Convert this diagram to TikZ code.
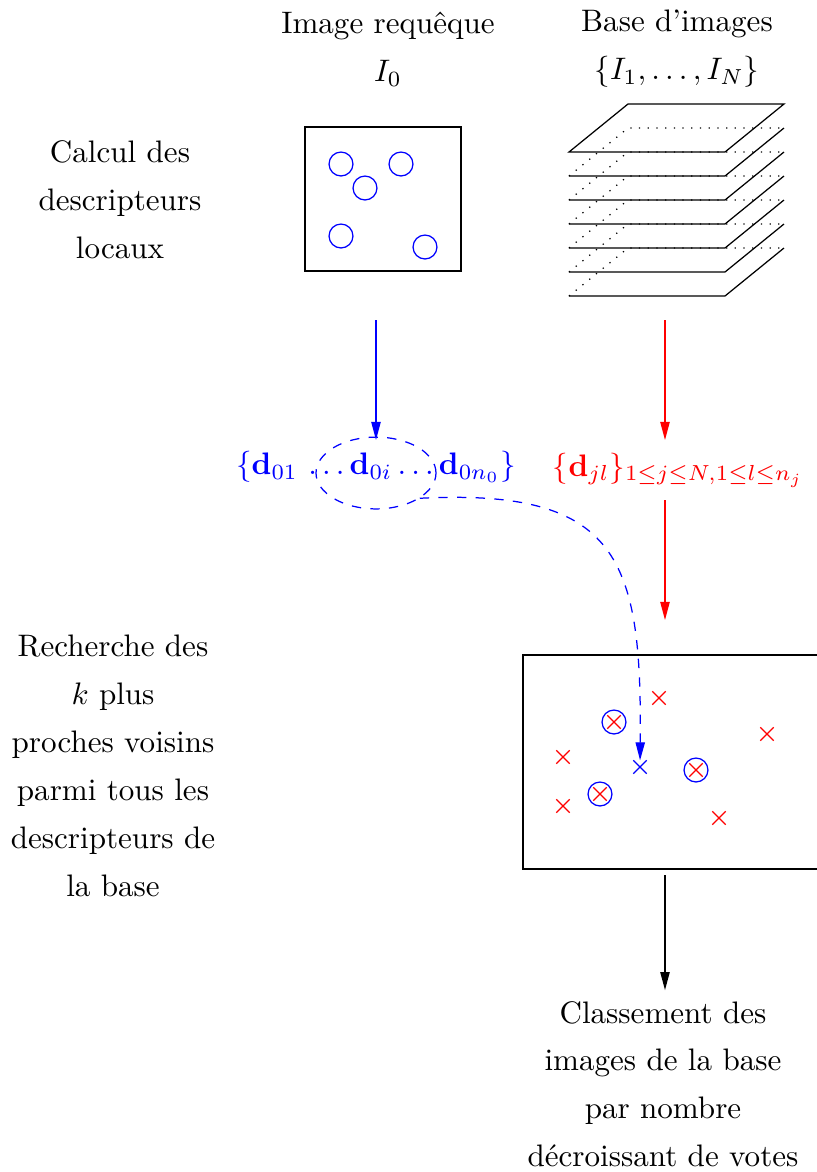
\documentclass[tikz,border=0pt]{standalone}
\usetikzlibrary{arrows.meta,shapes.geometric,shapes.misc}
\begin{document}
\begin{tikzpicture}[x=0.0113cm,y=-0.0113cm,
		bloc/.style={align=center,font=\fontsize{10}{15.4}\selectfont},
		fleche/.style={-{Triangle[length=5.8pt,width=3pt]}},
		ptcle/.style={circle,draw=blue,minimum size=7.7pt,inner sep=0pt},
		vote/.style={cross out,draw=red,minimum size=3.9pt,inner sep=0pt}]
		\useasboundingbox (0,0) rectangle (817,1172);

		% titres
		\node[bloc,anchor=north] (titreq) at (388,1) {Image requêque\\$I_0$};
		\node[bloc,anchor=north] (titreb) at (677,-1) {Base d'images\\$\{I_1,\ldots,I_N\}$};
		\node[bloc] (etape1) at (120,200) {Calcul des\\descripteurs\\locaux};
		\node[bloc] (etape2) at (113,766) {Recherche des\\$k$ plus\\proches voisins\\parmi tous les\\descripteurs de\\la base};

		% image requete
		\node[draw,minimum width=50.2pt,minimum height=46.3pt,inner sep=0pt] (requete) at (383,199) {};
		\foreach \x/\y [count=\i] in {341/164,401/164,365/188,341/236,425/247}
			\node[ptcle] (kp\i) at (\x,\y) {};

		% base d'images
		\foreach \k in {1,...,6}{
			\draw (569,152+24*\k) -- (725,152+24*\k) -- (784,104+24*\k);
			\draw[dash pattern=on 0.4pt off 2.4pt] (569,152+24*\k) -- (628,104+24*\k) -- (784,104+24*\k);
		}
		\draw (569,152) -- (725,152) -- (784,104) -- (628,104) -- cycle;

		% descripteurs
		\node[blue] (desc0) at (376,467) {$\{\mathbf{d}_{01}\,\ldots\mathbf{d}_{0i}\ldots\mathbf{d}_{0n_0}\}$};
		\node[draw=blue,dashed,ellipse,minimum width=38.6pt,minimum height=23.1pt] (selec) at (376,473) {};
		\node[red,anchor=west] (descb) at (542,470) {$\{\mathbf{d}_{jl}\}_{1\leq j\leq N,1\leq l\leq n_j}$};

		\coordinate (qhaut) at (376,320);
		\coordinate (qbas) at (376,440);
		\coordinate (bhaut) at (665,320);
		\coordinate (bbas) at (665,440);
		\coordinate (chaut) at (665,500);
		\coordinate (cbas) at (665,620);
		\draw[fleche,blue] (qhaut) -- (qbas);
		\draw[fleche,red] (bhaut) -- (bbas);
		\draw[fleche,red] (chaut) -- (cbas);

		% espace des descripteurs
		\node[draw,minimum width=95.2pt,minimum height=68.8pt,inner sep=0pt] (espace) at (671,762) {};
		\foreach \x/\y [count=\i] in {659/698,614/722,767/734,563/757,696/770,600/794,563/806,719/818}
			\node[vote] (v\i) at (\x,\y) {};
		\node[ptcle] (pp1) at (v2) {};
		\node[ptcle] (pp2) at (v5) {};
		\node[ptcle] (pp3) at (v6) {};
		\node[cross out,draw=blue,minimum size=3.9pt,inner sep=0pt] (vq) at (640,767) {};
		\draw[fleche,blue,dashed] (selec.-30) .. controls (620,488) and (642,560) .. (vq);

		% classement
		\node[bloc] (classe) at (663,1084) {Classement des\\images de la base\\par nombre\\décroissant de votes};
		\coordinate (dhaut) at (665,875);
		\draw[fleche] (dhaut) -- (classe.north -| dhaut);
	\end{tikzpicture}
\end{document}
